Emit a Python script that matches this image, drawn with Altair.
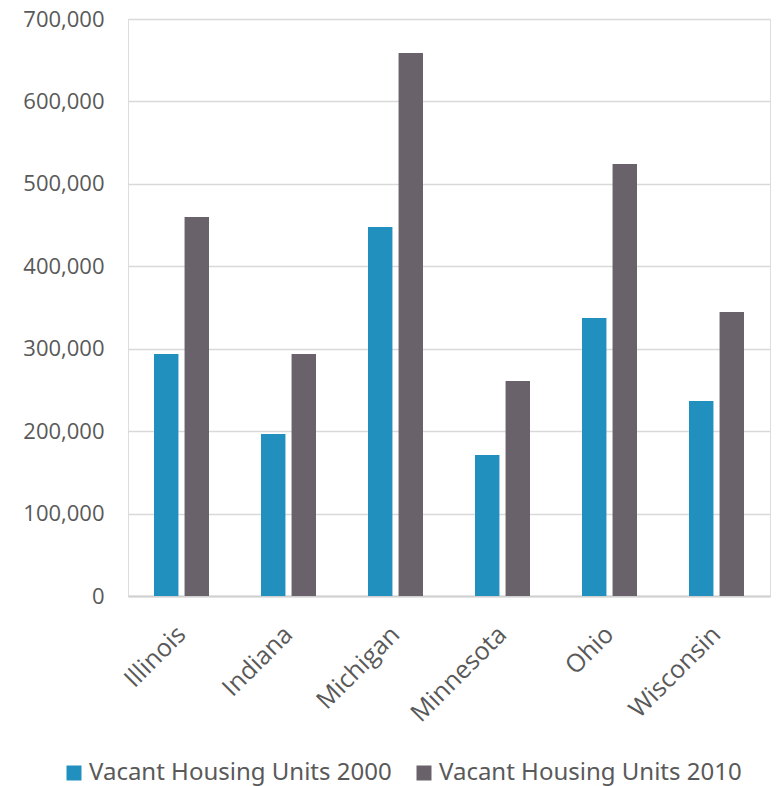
import altair as alt
import pandas as pd

states = ["Illinois", "Indiana", "Michigan", "Minnesota", "Ohio", "Wisconsin"]
series = ["Vacant Housing Units 2000", "Vacant Housing Units 2010"]
vacant_2000 = [293600, 196500, 447700, 171000, 337300, 236600]
vacant_2010 = [459800, 293600, 658700, 260800, 524000, 344500]
colors = ["#2290BF", "#69626A"]

rows = []
for i, s in enumerate(states):
    rows.append({"State": s, "Series": series[0], "Value": vacant_2000[i]})
    rows.append({"State": s, "Series": series[1], "Value": vacant_2010[i]})
df = pd.DataFrame(rows)

chart = alt.Chart(df).mark_bar().encode(
    x=alt.X("State:N", sort=states, title=None,
            scale=alt.Scale(paddingInner=0.486, paddingOuter=0.243),
            axis=alt.Axis(labelAngle=-45, labelAlign="right", labelBaseline="middle",
                          labelFontSize=25, labelFont="Open Sans", labelColor="#595959",
                          labelPadding=34, ticks=False, domainColor="#D0D0D0",
                          domainWidth=2, labelLimit=0)),
    xOffset=alt.XOffset("Series:N", sort=series, scale=alt.Scale(paddingInner=0.2)),
    y=alt.Y("Value:Q", title=None,
            scale=alt.Scale(domain=[0, 700000], nice=False),
            axis=alt.Axis(values=[0, 100000, 200000, 300000, 400000, 500000, 600000, 700000],
                          format=",d", labelFontSize=22, labelFont="Open Sans",
                          labelColor="#595959", labelPadding=24, ticks=False,
                          domain=False, gridColor="#D9D9D9", gridWidth=1.3)),
    color=alt.Color("Series:N", sort=series,
                    scale=alt.Scale(domain=series, range=colors),
                    legend=alt.Legend(title=None, orient="none", direction="horizontal",
                                      legendX=-66, legendY=742, symbolType="square",
                                      symbolSize=225, symbolStrokeWidth=0,
                                      labelFontSize=24, labelFont="Noto Sans",
                                      labelColor="#595959", columnPadding=20,
                                      labelLimit=0, labelOffset=3)),
).properties(
    width=642, height=577,
    padding={"left": 128, "top": 19, "right": 7, "bottom": 190},
    autosize=alt.AutoSizeParams(type="none"),
).configure_view(stroke="transparent").configure(background="white")

chart.save("out.html", embed_options={"renderer": "svg", "actions": False})
